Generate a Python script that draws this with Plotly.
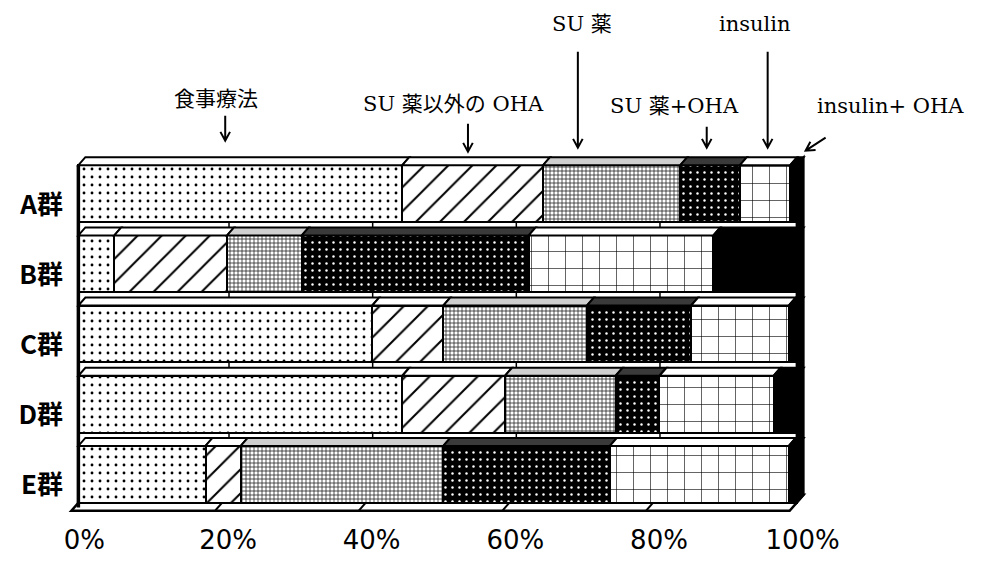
import plotly.graph_objects as go
import math

# ---------------- data ----------------
groups = ['A群', 'B群', 'C群', 'D群', 'E群']
series_names = ['食事療法', 'SU 薬以外の OHA', 'SU 薬', 'SU 薬+OHA', 'insulin', 'insulin+ OHA']
diet = [45.1, 5.0, 40.9, 45.1, 17.7]
non_su_oha = [19.6, 15.7, 9.9, 14.3, 4.9]
su = [19.1, 10.4, 20.0, 15.4, 28.2]
su_oha = [8.3, 31.6, 14.5, 6.1, 23.2]
insulin = [7.0, 25.7, 13.6, 15.9, 24.9]
insulin_oha = [0.9, 11.6, 1.1, 3.2, 1.1]
x_tick_vals = [0, 20, 40, 60, 80, 100]
x_tick_text = ['0%', '20%', '40%', '60%', '80%', '100%']

series_values = [diet, non_su_oha, su, su_oha, insulin, insulin_oha]

# ---------------- layout geometry ----------------
W, H = 983, 562
XR = [-2, 102]
YR = [4.75, -0.75]
px_per_x = 7.19
px_per_y = 70.2
ML = 78 - 2 * px_per_x
PW = (XR[1] - XR[0]) * px_per_x
MR = W - ML - PW
MT = 194 - 0.75 * px_per_y
PH = (YR[0] - YR[1]) * px_per_y
MB = H - MT - PH
BAR_W = 0.81
DDX = 7 / px_per_x
DDY = 8 / px_per_y


def pp(x, y):
    return (x - ML) / PW, (MT + PH - y) / PH


# pattern styles
styles = [
    dict(color='white', pattern=dict(shape='.', fgcolor='black', bgcolor='white', size=8, solidity=0.1, fillmode='replace')),
    dict(color='white', pattern=dict(shape='/', fgcolor='black', bgcolor='white', size=17, solidity=0.12, fillmode='replace')),
    dict(color='white', pattern=dict(shape='+', fgcolor='#222222', bgcolor='white', size=4, solidity=0.35, fillmode='replace')),
    dict(color='black', pattern=dict(shape='.', fgcolor='white', bgcolor='black', size=7, solidity=0.1, fillmode='replace')),
    dict(color='white', pattern=dict(shape='+', fgcolor='black', bgcolor='white', size=17, solidity=0.07, fillmode='replace')),
    dict(color='black'),
]
top_fill = ['white', 'white', '#cfcfcf', '#3a3a3a', 'white', 'black']

fig = go.Figure()
yidx = list(range(len(groups)))
for name, vals, st in zip(series_names, series_values, styles):
    fig.add_trace(go.Bar(
        x=vals, y=yidx, orientation='h', name=name, width=BAR_W,
        marker=dict(line=dict(color='black', width=2.5), **st),
        showlegend=False,
    ))

shapes = []
# back wall gridlines
top_back = 0 - BAR_W / 2 - DDY
bot = len(groups) - 1 + BAR_W / 2
for v in x_tick_vals[1:-1]:
    shapes.append(dict(type='line', xref='x', yref='y', x0=v + DDX, x1=v + DDX, y0=top_back, y1=bot,
                       line=dict(color='black', width=1.5), layer='below'))
# floor
fl = f"M {0 - DDX} {bot + DDY} L {100 - DDX} {bot + DDY} L {100 + DDX} {bot - DDY} L {0 + DDX} {bot - DDY} Z"
shapes.append(dict(type='path', xref='x', yref='y', path=fl, fillcolor='white',
                   line=dict(color='black', width=2.5), layer='below'))
for v in x_tick_vals[1:-1]:
    shapes.append(dict(type='line', xref='x', yref='y', x0=v - DDX, x1=v + DDX, y0=bot + DDY, y1=bot - DDY,
                       line=dict(color='black', width=2), layer='below'))

# top faces of each segment
for gi in yidx:
    top = gi - BAR_W / 2
    left = 0
    for si, vals in enumerate(series_values):
        right = left + vals[gi]
        path = (f"M {left} {top} L {right} {top} L {right + DDX} {top - DDY} "
                f"L {left + DDX} {top - DDY} Z")
        shapes.append(dict(type='path', xref='x', yref='y', path=path, fillcolor=top_fill[si],
                           line=dict(color='black', width=2), layer='above'))
        left = right
# right side wall (black)
rs = f"M 100 {top_back + DDY} L {100 + DDX} {top_back} L {100 + DDX} {bot - DDY} L 100 {bot} Z"
shapes.append(dict(type='path', xref='x', yref='y', path=rs, fillcolor='black',
                   line=dict(color='black', width=2), layer='above'))
# left front edge
shapes.append(dict(type='line', xref='x', yref='y', x0=0, x1=0, y0=top_back + DDY, y1=bot + DDY * 0.6,
                   line=dict(color='black', width=3.5), layer='above'))

# annotation arrows (pixel positions)
arrows = [((225, 116), (225, 141)), ((468, 124), (468, 152)), ((578, 52), (578, 148)),
          ((768, 52), (768, 148)), ((707, 127), (707, 148)), ((826, 138), (806, 151))]
for (sx, sy), (ex, ey) in arrows:
    ang = math.atan2(ey - sy, ex - sx)
    hl = 10
    h1 = (ex - hl * math.cos(ang - 0.5), ey - hl * math.sin(ang - 0.5))
    h2 = (ex - hl * math.cos(ang + 0.5), ey - hl * math.sin(ang + 0.5))
    a, b = pp(sx, sy)
    c, d = pp(ex, ey)
    e, f = pp(*h1)
    g, h = pp(*h2)
    shapes.append(dict(type='path', xref='paper', yref='paper',
                       path=f"M {a} {b} L {c} {d} M {e} {f} L {c} {d} L {g} {h}",
                       line=dict(color='black', width=2)))

label_pos = [(216, 99), (454, 104), (582, 24), (675, 106), (755, 24), (891, 106)]
annotations = []
for name, (lx, ly) in zip(series_names, label_pos):
    ax_, ay_ = pp(lx, ly)
    annotations.append(dict(text=name, x=ax_, y=ay_, xref='paper', yref='paper', showarrow=False,
                            xanchor='center', yanchor='middle',
                            font=dict(family='DejaVu Serif, Noto Sans CJK JP', size=21, color='black')))

fig.update_layout(
    barmode='stack', bargap=0,
    width=W, height=H, autosize=False,
    margin=dict(l=ML, r=MR, t=MT, b=MB, pad=0),
    paper_bgcolor='white', plot_bgcolor='white',
    shapes=shapes, annotations=annotations,
    xaxis=dict(range=XR, tickvals=x_tick_vals, ticktext=x_tick_text, showgrid=False, zeroline=False,
               showline=False, ticks='', ticklabelshift=6, ticklabelstandoff=-5, automargin=False,
               tickfont=dict(family='DejaVu Sans', size=26, color='black')),
    yaxis=dict(range=YR, tickvals=yidx, ticktext=groups, showgrid=False, zeroline=False,
               showline=False, ticks='', ticklabelshift=-11, automargin=False,
               tickfont=dict(family='Noto Sans CJK JP', size=26, color='black', weight='bold')),
)

fig.write_html('out.html')
